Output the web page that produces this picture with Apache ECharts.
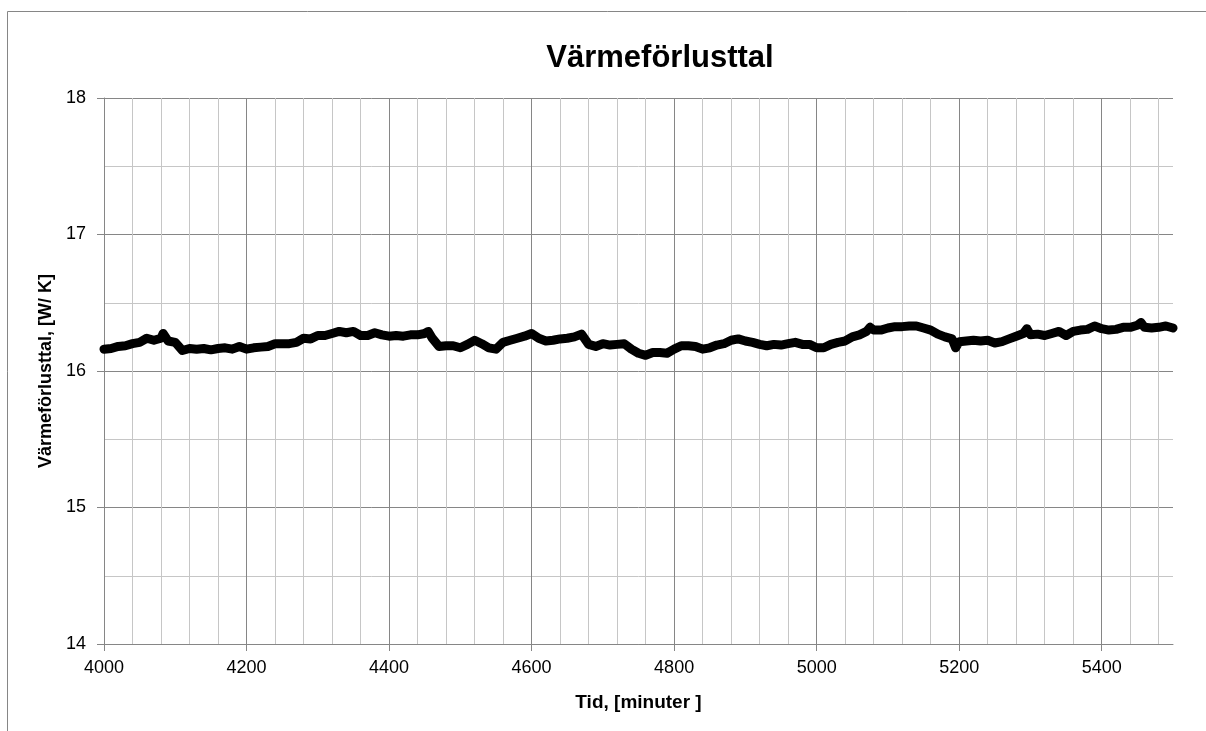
<!DOCTYPE html>
<html>
<head>
<meta charset="utf-8">
<script src="https://cdn.jsdelivr.net/npm/echarts@6/dist/echarts.min.js"></script>
<style>
html,body{margin:0;padding:0;background:#fff;}
#chart{width:1206px;height:731px;}
</style>
</head>
<body>
<div id="chart"></div>
<script>
const titleText = 'Värmeförlusttal';
const xName = 'Tid, [minuter ]';
const yName = 'Värmeförlusttal, [W/ K]';
const xTicks = [4000, 4200, 4400, 4600, 4800, 5000, 5200, 5400];
const yTicks = [14, 15, 16, 17, 18];
const minutes = [
4000,4010,4020,4030,4040,4050,4060,4070,4080,4083,4090,4100,4110,4120,4130,4140,4150,4160,4170,4180,4190,
4200,4210,4220,4230,4240,4250,4260,4270,4280,4290,4300,4310,4320,4330,4340,4350,4360,4370,4380,4390,
4400,4410,4420,4430,4440,4450,4455,4460,4470,4480,4490,4500,4510,4520,4530,4540,4550,4560,4570,4580,4590,
4600,4610,4620,4630,4640,4650,4660,4670,4680,4690,4700,4710,4720,4730,4740,4750,4760,4770,4780,4790,
4800,4810,4820,4830,4840,4850,4860,4870,4880,4890,4900,4910,4920,4930,4940,4950,4960,4970,4980,4990,
5000,5010,5020,5030,5040,5050,5060,5070,5075,5080,5090,5100,5110,5120,5130,5140,5150,5160,5170,5180,5190,5195,
5200,5210,5220,5230,5240,5250,5260,5270,5280,5290,5295,5300,5310,5320,5330,5340,5350,5360,5370,5380,5390,
5400,5410,5420,5430,5440,5450,5455,5460,5470,5480,5490,5500
];
const values = [
16.16,16.165,16.18,16.185,16.20,16.21,16.24,16.225,16.24,16.275,16.22,16.21,16.15,16.165,16.16,16.165,16.155,16.165,16.17,16.16,16.18,
16.16,16.17,16.175,16.18,16.20,16.20,16.20,16.21,16.24,16.235,16.26,16.26,16.275,16.29,16.28,16.29,16.26,16.26,16.28,16.265,
16.255,16.26,16.255,16.265,16.265,16.275,16.29,16.245,16.18,16.185,16.185,16.17,16.195,16.225,16.20,16.17,16.16,16.21,16.225,16.24,16.255,
16.275,16.24,16.22,16.225,16.235,16.24,16.25,16.27,16.195,16.18,16.20,16.19,16.195,16.20,16.16,16.13,16.115,16.135,16.135,16.13,
16.16,16.185,16.185,16.18,16.16,16.17,16.19,16.20,16.225,16.235,16.22,16.21,16.195,16.185,16.195,16.19,16.20,16.21,16.195,16.195,
16.17,16.17,16.195,16.21,16.22,16.25,16.265,16.29,16.32,16.30,16.30,16.315,16.325,16.325,16.33,16.33,16.315,16.30,16.27,16.25,16.235,16.17,
16.215,16.22,16.225,16.22,16.225,16.205,16.215,16.235,16.255,16.275,16.31,16.265,16.27,16.26,16.275,16.29,16.26,16.29,16.30,16.305,16.33,
16.31,16.30,16.305,16.32,16.32,16.335,16.355,16.32,16.315,16.32,16.33,16.315
];

const FONT = '"Liberation Sans", Arial, sans-serif';
const chart = echarts.init(document.getElementById('chart'), null, {renderer: 'canvas'});
const seriesData = minutes.map((m, i) => [m, values[i]]);
const plain = v => String(v);

chart.setOption({
  animation: false,
  backgroundColor: '#ffffff',
  graphic: [
    {type: 'rect', shape: {x: 7.5, y: 11.5, width: 1230, height: 760},
     style: {fill: null, stroke: '#868686', lineWidth: 1}, z: -10, silent: true},
    {type: 'text', x: 660, y: 58,
     style: {text: titleText, fill: '#000', font: 'bold 31px ' + FONT, textAlign: 'center', textVerticalAlign: 'middle'}}
  ],
  grid: {left: 104, right: 33, top: 98, bottom: 87},
  xAxis: {
    type: 'value', min: xTicks[0], max: 5500, interval: 200,
    name: xName, nameLocation: 'middle', nameGap: 49,
    nameTextStyle: {fontFamily: FONT, fontWeight: 'bold', fontSize: 19, color: '#000'},
    axisLine: {show: true, onZero: false, lineStyle: {color: '#868686', width: 1}},
    axisTick: {show: true, inside: false, length: 7, lineStyle: {color: '#868686', width: 1}},
    axisLabel: {show: true, showMaxLabel: false, formatter: plain, fontFamily: FONT, fontSize: 18, color: '#000', margin: 15},
    splitLine: {show: true, showMaxLine: false, lineStyle: {color: '#868686', width: 1}},
    minorTick: {show: false, splitNumber: 5},
    minorSplitLine: {show: true, lineStyle: {color: '#c6c6c6', width: 1}}
  },
  yAxis: {
    type: 'value', min: yTicks[0], max: yTicks[yTicks.length - 1], interval: 1,
    name: yName, nameLocation: 'middle', nameGap: 47, nameRotate: 90,
    nameTextStyle: {fontFamily: FONT, fontWeight: 'bold', fontSize: 18, color: '#000'},
    axisLine: {show: true, onZero: false, lineStyle: {color: '#868686', width: 1}},
    axisTick: {show: true, inside: false, length: 7, lineStyle: {color: '#868686', width: 1}},
    axisLabel: {show: true, formatter: plain, fontFamily: FONT, fontSize: 18, color: '#000', margin: 18},
    splitLine: {show: true, lineStyle: {color: '#868686', width: 1}},
    minorTick: {show: false, splitNumber: 2},
    minorSplitLine: {show: true, lineStyle: {color: '#c6c6c6', width: 1}}
  },
  series: [{
    type: 'line',
    data: seriesData,
    showSymbol: false,
    symbol: 'none',
    lineStyle: {color: '#000', width: 9, cap: 'round', join: 'round'},
    z: 5
  }]
});
</script>
</body>
</html>
